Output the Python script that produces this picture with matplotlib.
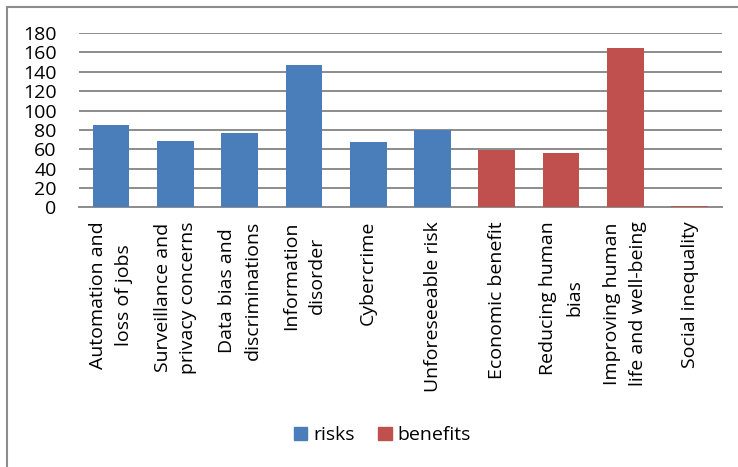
import matplotlib
matplotlib.use("Agg")
import matplotlib.pyplot as plt
from matplotlib.patches import Patch, Rectangle

#### DATA
categories = [
    "Automation and\nloss of jobs",
    "Surveillance and\nprivacy concerns",
    "Data bias and\ndiscriminations",
    "Information\ndisorder",
    "Cybercrime",
    "Unforeseeable risk",
    "Economic benefit",
    "Reducing human\nbias",
    "Improving human\nlife and well-being",
    "Social inequality",
]
values = [85, 69, 77, 147, 68, 80, 59, 56, 165, 2]
groups = ["risks"] * 6 + ["benefits"] * 4
y_ticks = [0, 20, 40, 60, 80, 100, 120, 140, 160, 180]

colors = {"risks": "#4A7EBB", "benefits": "#C0504D"}

plt.rcParams["font.family"] = ["Open Sans", "DejaVu Sans"]
fs = 14

fig = plt.figure(figsize=(7.38, 4.67), dpi=100)
ax = fig.add_axes([0.107, 0.5557, 0.871, 0.3736])

# outer chart frame (only top/left visible in the reference)
fig.patches.append(Rectangle((7 / 738, -0.1), 1.2, 1 - 7 / 467 + 0.1,
                             transform=fig.transFigure, fill=False,
                             edgecolor="#8c8c8c", linewidth=1.5))

x = range(len(categories))
ax.bar(x, values, width=0.57, color=[colors[g] for g in groups], zorder=3)

ax.set_xlim(-0.5, len(categories) - 0.5)
ax.set_ylim(0, 180)
ax.set_yticks(y_ticks)
ax.set_yticklabels([str(v) for v in y_ticks], fontsize=fs)
ax.tick_params(axis="y", length=0, pad=16)
ax.tick_params(axis="x", length=0)
ax.yaxis.grid(True, color="#8c8c8c", linewidth=1.4, zorder=0)
ax.set_axisbelow(True)

for s in ["top", "right", "left"]:
    ax.spines[s].set_visible(False)
ax.spines["bottom"].set_color("#8c8c8c")
ax.spines["bottom"].set_linewidth(1.4)

ax.set_xticks(list(x))
ax.set_xticklabels([])
for i, lab in enumerate(categories):
    ax.text(i, -14, lab, rotation=90, ha="center", va="top",
            multialignment="center", fontsize=fs,
            transform=ax.transData, linespacing=1.55)

handles = [Patch(color=colors["risks"], label="risks"),
           Patch(color=colors["benefits"], label="benefits")]
fig.legend(handles=handles, loc="center", bbox_to_anchor=(0.518, 0.068),
           ncol=2, frameon=False, fontsize=fs, handlelength=0.7,
           handleheight=0.7, handletextpad=0.3, columnspacing=1.2)

fig.savefig("out.png", dpi=100)
